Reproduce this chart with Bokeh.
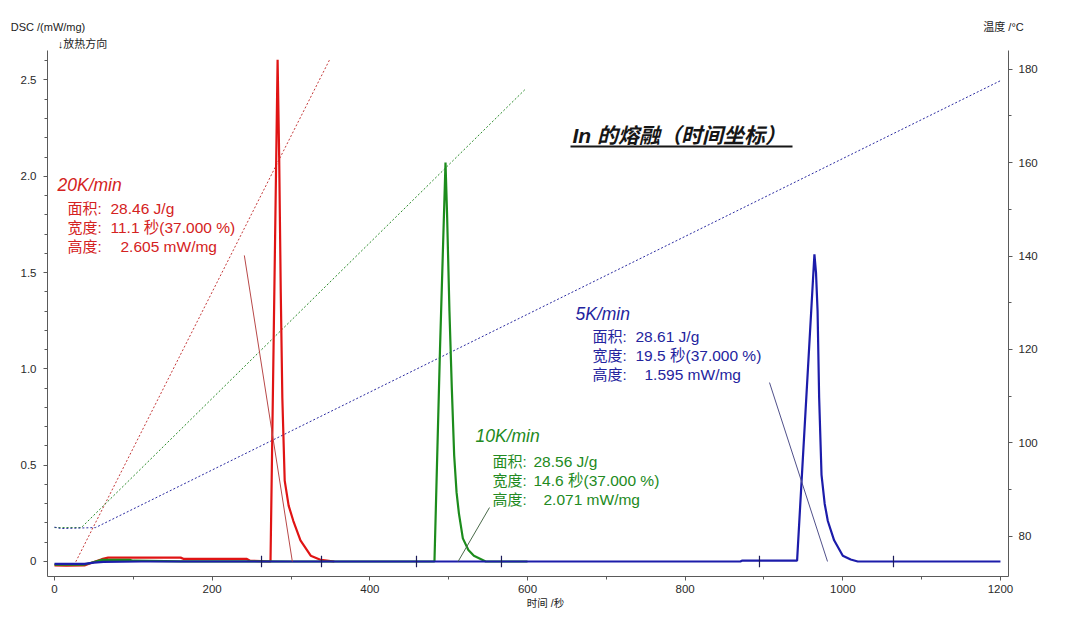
from bokeh.plotting import figure
from bokeh.models import Range1d, LinearAxis, FixedTicker, Label, BoxAnnotation
from bokeh.embed import file_html
from bokeh.resources import INLINE

# ---- DSC traces: time (s) vs DSC (mW/mg) ----
red_t = [0, 15, 38, 48, 60, 68, 160, 164, 244, 248, 262, 274, 278, 283, 285, 287,
         289, 292, 297, 303, 312, 325, 338, 355]
red_v = [-0.02, -0.022, -0.021, -0.005, 0.012, 0.02, 0.02, 0.013, 0.013, 0.004, 0.002,
         0.0, 1.15, 2.605, 2.1, 1.4, 0.85, 0.42, 0.29, 0.21, 0.11, 0.03, 0.008, 0.0]

green_t = [0, 38, 48, 60, 95, 100, 160, 300, 482, 489, 496, 498, 501, 504, 507, 510,
           513, 518, 525, 532, 547, 600]
green_v = [-0.016, -0.016, -0.005, 0.008, 0.008, 0.004, 0.001, 0.0, 0.0, 1.1, 2.071,
           1.8, 1.3, 0.9, 0.55, 0.36, 0.25, 0.12, 0.06, 0.03, 0.0, 0.0]

blue_t = [0, 38, 50, 62, 110, 870, 872, 942, 953, 964, 966, 968, 970, 973, 977, 981,
          989, 1000, 1010, 1019, 1200]
blue_v = [-0.012, -0.012, -0.006, -0.002, 0.0, 0.0, 0.004, 0.004, 0.8, 1.595, 1.5, 1.3,
          0.85, 0.45, 0.3, 0.21, 0.11, 0.03, 0.01, 0.0, 0.0]

# ---- temperature programmes: time (s) vs temperature (°C) ----
red_temp_t = [27, 349]
red_temp_v = [74.6, 182.0]
green_temp_t = [0, 34, 598]
green_temp_v = [81.9, 81.9, 175.8]
blue_temp_t = [0, 8, 30, 52, 1200]
blue_temp_v = [82.0, 81.7, 81.8, 81.9, 177.5]

# ---- peak leader lines and integration limits ----
red_lead_t, red_lead_v = [240.8, 301.7], [1.589, 0.0]
green_lead_t, green_lead_v = [551.8, 512.0], [0.28, 0.0]
blue_lead_t, blue_lead_v = [907.0, 980.6], [0.929, 0.0]
limit_t = [262.6, 338.7, 459.2, 567.0, 894.3, 1064.3]

# ---- peak evaluation results ----
rates = ["20K/min", "10K/min", "5K/min"]
areas = ["28.46 J/g", "28.56 J/g", "28.61 J/g"]
widths = ["11.1 秒(37.000 %)", "14.6 秒(37.000 %)", "19.5 秒(37.000 %)"]
heights = ["2.605 mW/mg", "2.071 mW/mg", "1.595 mW/mg"]

# ---- axis ticks and captions ----
x_major = [0, 200, 400, 600, 800, 1000, 1200]
x_minor = [100, 300, 500, 700, 900, 1100]
dsc_major = [0, 0.5, 1.0, 1.5, 2.0, 2.5]
dsc_minor = [round(0.1 * i, 1) for i in range(0, 27)]
temp_major = [80, 100, 120, 140, 160, 180]
temp_minor = list(range(80, 184, 10))
dsc_caption = "DSC /(mW/mg)"
exo_caption = "↓放热方向"
temp_caption = "温度 /°C"
time_caption = "时间 /秒"

RED, GREEN, BLUE = "#e01414", "#1c8c1c", "#1c1caa"
RED_TXT, GREEN_TXT, BLUE_TXT = "#d42222", "#228a22", "#24249e"
FONT = "Liberation Sans, Noto Sans CJK SC"
AXIS_COLOR = "#5a5a5a"

W, H = 1080, 632
FL, FR, FT, FB = 47, 1008, 50, 576  # frame edges on the canvas

p = figure(width=W, height=H, output_backend="svg", toolbar_location=None,
           x_range=Range1d(-8.9, 1210.2), y_range=Range1d(-0.078, 2.653),
           min_border_left=FL, min_border_right=W - FR,
           min_border_top=FT, min_border_bottom=H - FB)
p.extra_y_ranges = {"temp": Range1d(71.44, 183.96)}
# pixel-like range used to place the captions around the frame
p.extra_x_ranges = {"px": Range1d(FL, FR)}
p.outline_line_color = None
p.grid.visible = False
p.background_fill_color = "white"
p.border_fill_color = "white"


def style_axis(ax):
    ax.axis_line_color = AXIS_COLOR
    ax.major_tick_line_color = AXIS_COLOR
    ax.minor_tick_line_color = AXIS_COLOR
    ax.major_tick_out = 4
    ax.major_tick_in = 0
    ax.minor_tick_out = 3
    ax.minor_tick_in = 0
    ax.major_label_text_font = FONT
    ax.major_label_text_font_size = "11.5px"
    ax.major_label_text_color = "#2a2a2a"


xa = p.xaxis[0]
xa.ticker = FixedTicker(ticks=x_major, minor_ticks=x_minor)
xa.major_label_standoff = 4
style_axis(xa)

ya = p.yaxis[0]
ya.ticker = FixedTicker(ticks=dsc_major, minor_ticks=dsc_minor)
ya.major_label_overrides = {0: "0", 1.0: "1.0", 2.0: "2.0"}
ya.major_label_standoff = 7
style_axis(ya)

ta = LinearAxis(y_range_name="temp",
                ticker=FixedTicker(ticks=temp_major, minor_ticks=temp_minor))
ta.major_label_standoff = 6
style_axis(ta)
p.add_layout(ta, "right")


def caption_axis(labels, size, standoff):
    """A bare axis whose only job is to print captions at given canvas x."""
    ax = LinearAxis(x_range_name="px",
                    ticker=FixedTicker(ticks=list(labels), minor_ticks=[]))
    ax.major_label_overrides = dict(labels)
    ax.axis_line_color = None
    ax.major_tick_line_color = None
    ax.minor_tick_line_color = None
    ax.major_tick_out = 0
    ax.major_tick_in = 0
    ax.major_label_standoff = standoff
    ax.major_label_text_font = FONT
    ax.major_label_text_font_size = size
    ax.major_label_text_color = "#222222"
    return ax


p.add_layout(caption_axis({82.0: exo_caption}, "11px", 1), "above")
p.add_layout(caption_axis({47.5: dsc_caption, 1003.0: temp_caption}, "11px", 2), "above")
p.add_layout(caption_axis({545.0: time_caption}, "10.5px", 1), "below")

# temperature programmes (dotted)
dash = "2 2"
p.line(red_temp_t, red_temp_v, y_range_name="temp", line_color="#c43a3a",
       line_width=1, line_dash=dash)
p.line(green_temp_t, green_temp_v, y_range_name="temp", line_color="#2a8a2a",
       line_width=1, line_dash=dash)
p.line(blue_temp_t, blue_temp_v, y_range_name="temp", line_color="#2a2aa0",
       line_width=1, line_dash=dash)

# DSC signals
p.line(red_t, red_v, line_color=RED, line_width=2.2)
p.line(green_t, green_v, line_color=GREEN, line_width=2.2)
p.line(blue_t, blue_v, line_color=BLUE, line_width=2.2)

# leader lines from the result blocks to the peaks
p.line(red_lead_t, red_lead_v, line_color="#b84848", line_width=1)
p.line(green_lead_t, green_lead_v, line_color="#4a6a4a", line_width=1)
p.line(blue_lead_t, blue_lead_v, line_color="#50508a", line_width=1)

# integration limits
p.segment(x0=limit_t, y0=[-0.03] * len(limit_t), x1=limit_t, y1=[0.03] * len(limit_t),
          line_color="#1c1c5a", line_width=1.2)


def add_text(txt, px, py, size, color="#222222", style="normal", align="left"):
    p.add_layout(Label(x=px - FL, y=FB - py, x_units="screen", y_units="screen",
                       text=txt, text_font=FONT, text_font_size=size,
                       text_font_style=style, text_color=color,
                       text_align=align, text_baseline="middle"))


# title with underline
add_text("In 的熔融（时间坐标）", 572, 135, "21px", "#161616", "bold italic")
p.add_layout(BoxAnnotation(left=570 - FL, right=792 - FL, bottom=FB - 147, top=FB - 145,
                           left_units="screen", right_units="screen",
                           bottom_units="screen", top_units="screen",
                           fill_color="#161616", fill_alpha=1, line_color=None))

# result blocks: (rate x, rate y, row x, value x, height-value x, first row y)
blocks = [(57, 184, 67, 110, 120, 208, RED_TXT),
          (475, 435, 492, 533, 543, 461, GREEN_TXT),
          (575, 313, 592, 635, 644, 336, BLUE_TXT)]
for i, (rx, ry, lx, vx, hx, y0, col) in enumerate(blocks):
    add_text(rates[i], rx, ry, "17.5px", col, "italic")
    add_text("面积:", lx, y0, "15px", col)
    add_text(areas[i], vx, y0, "15.5px", col)
    add_text("宽度:", lx, y0 + 19, "15px", col)
    add_text(widths[i], vx, y0 + 19, "15.5px", col)
    add_text("高度:", lx, y0 + 38, "15px", col)
    add_text(heights[i], hx, y0 + 38, "15.5px", col)

open("out.html", "w").write(file_html(p, INLINE))
